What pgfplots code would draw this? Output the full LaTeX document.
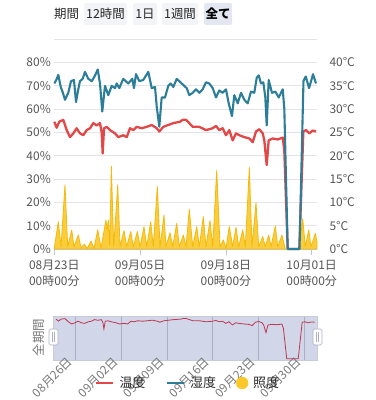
\documentclass[border=0pt]{standalone}
\usepackage{fontspec}
\setmainfont{Noto Sans CJK JP}
\usepackage{pgfplots}
\usepackage{pgfplotstable}
\pgfplotsset{compat=1.18}
\definecolor{tred}{RGB}{226,72,72}
\definecolor{hteal}{RGB}{44,126,152}
\definecolor{lyel}{RGB}{250,200,40}
\definecolor{lyeld}{RGB}{245,185,10}
\definecolor{gridc}{RGB}{228,228,232}
\definecolor{axc}{RGB}{190,200,218}
\definecolor{txtg}{RGB}{85,85,85}
\definecolor{txtd}{RGB}{40,40,40}
\definecolor{txtl}{RGB}{120,120,120}
\definecolor{zoombg}{RGB}{210,214,233}
\definecolor{zoomborder}{RGB}{200,204,215}
\definecolor{zgrid}{RGB}{170,175,195}
\definecolor{mred}{RGB}{190,55,80}
\definecolor{btnbg}{RGB}{243,244,247}
\definecolor{btnsel}{RGB}{226,231,242}
\newcommand\fs[1]{\fontsize{#1}{#1}\selectfont}

\pgfplotstableread{
d h
0 71
0.3 72.5
0.61 74.7
0.97 69.6
1.3 67
1.62 64
2.12 67
2.53 72
2.98 72.5
3.29 63
3.6 68
3.89 72
4.3 73
4.65 76
5.15 73
5.67 72
6.1 74
6.58 77
6.92 71
7.27 59
7.68 70
8.18 66
8.70 70
9.20 69
9.45 71
9.85 69
10.45 73
11.21 71
11.82 73
12.07 69
12.38 75
12.88 72
13.48 72.5
14.24 76
14.76 69
15.26 69.5
15.52 61
15.91 52.5
16.27 65
16.77 65
17.27 70
17.64 71
18.03 69.5
18.55 73
19.30 71
20.06 69
20.45 66
20.97 67
21.47 68.5
21.97 67
22.48 68.5
22.98 71.5
23.48 71
24.00 69
24.50 65
25.00 68
25.51 67
26.01 68.5
26.42 62.5
26.92 57
27.27 66
27.79 62.5
28.29 67
28.79 64
29.30 62.5
29.80 67.5
30.30 67
30.67 73.5
30.97 74.5
31.32 71
31.67 71.5
31.97 65
32.18 53
32.48 72.5
32.98 67
33.49 67.5
34.00 65
34.61 68.5
34.85 60
35.36 0
37.15 0
37.75 72
38.10 74
38.60 69
39.20 75
39.65 71
}\humid

\pgfplotstableread{
d t
0 27.3
0.36 26
0.76 27.3
1.36 27.7
1.88 25.5
2.38 24
2.88 24.8
3.39 25.9
3.89 24.8
4.39 24.4
4.91 25.5
5.41 25.9
5.91 27
6.42 26.5
6.92 27
7.18 25
7.33 20.5
7.53 25.9
7.94 26.2
8.44 25.5
9.20 24.8
9.70 24
10.45 24.4
10.97 24
11.47 25.9
11.97 25.5
12.48 26.2
13.24 25.9
14.00 26.2
14.76 26.6
15.52 25.9
15.91 25.2
16.51 26.2
17.27 26.6
18.03 27
19.05 27.3
19.45 27.7
19.96 27.7
20.45 27
20.97 26.2
21.97 26.2
22.98 25.5
24.00 25.9
24.50 26.4
25.00 25.5
25.51 25.9
26.01 24.4
26.51 25.5
27.03 23.3
27.53 24.8
28.03 24.4
28.79 24
29.55 23.7
30.06 22.9
30.56 25.2
31.06 25.7
31.58 24.8
31.82 23.3
32.18 18
32.48 23.3
33.09 23.7
33.85 23.5
34.61 23.9
34.85 21
35.36 0
37.12 0
37.73 25.2
38.14 25.5
38.64 24.8
39.15 25.4
39.65 25.2
}\temp

\pgfplotstableread{
d l
0 0.5
0.61 11.7
1.02 1
1.62 27.5
2.03 1
2.64 8.2
2.98 1
3.64 6
4.05 0.5
4.55 2
5.00 0.3
5.56 3.4
6.02 0.3
6.58 8.2
7.08 0.5
7.83 12.4
8.00 8
8.18 12.5
8.40 1.5
8.64 35.6
9.00 1
9.61 27.5
9.96 1
10.56 7.9
10.97 1
11.58 7.5
11.97 1
12.58 7.5
12.99 1
13.59 9.6
14.00 1
14.61 11.7
15.00 1
15.61 26.8
16.02 1
16.62 14.6
16.92 1
17.53 7
17.94 1
18.55 11
18.94 1
19.55 6
19.96 1
20.45 17
20.97 1
21.58 9.6
21.97 1
22.58 13.9
22.98 1
23.59 12.2
24.00 1
24.61 33.8
25.11 1
25.61 3.9
26.01 0.3
26.51 9.6
27.03 1
27.53 9.3
27.94 1
28.55 8.2
28.94 1
29.55 35
29.95 1
30.56 19.9
30.97 1
31.58 5.3
31.97 1
32.48 6
32.83 1
33.49 9.9
33.85 1
34.49 6
34.99 0
37.12 0
37.64 13
38.03 1
38.55 8.2
38.89 1
39.55 6.7
39.80 3
}\lux

\begin{document}
\begin{tikzpicture}
% top buttons
\fill[btnbg, rounded corners=2bp] (84bp,375bp) rectangle (127bp,397bp);
\fill[btnbg, rounded corners=2bp] (133bp,375bp) rectangle (157bp,397bp);
\fill[btnbg, rounded corners=2bp] (162bp,375bp) rectangle (198bp,397bp);
\fill[btnsel, rounded corners=2bp] (204bp,375bp) rectangle (232bp,397bp);
\node[font=\fs{12.5}, text=txtd] at (66.5bp,386bp) {期間};
\node[font=\fs{12.5}, text=txtd] at (105.5bp,386bp) {12時間};
\node[font=\fs{12.5}, text=txtd] at (145bp,386bp) {1日};
\node[font=\fs{12.5}, text=txtd] at (180bp,386bp) {1週間};
\node[font=\bfseries\fs{12.5}, text=black] at (218bp,386bp) {全て};
\draw[gridc, line width=0.8bp] (54bp,361bp) -- (317bp,361bp);

% temperature axis (right)
\begin{axis}[
  at={(54.3bp,151bp)}, anchor=south west, scale only axis,
  width=262.7bp, height=186.5bp,
  xmin=0, xmax=39.8, ymin=0, ymax=40, clip=false,
  axis x line*=bottom, axis y line*=right,
  x axis line style={draw=axc, line width=0.8bp},
  y axis line style={draw=none},
  xtick={0,13,26,39},
  xticklabels={{08月23日\\00時00分},{09月05日\\00時00分},{09月18日\\00時00分},{10月01日\\00時00分}},
  xticklabel style={align=center, font=\fontsize{12}{16}\selectfont, text=txtg, yshift=-1.5bp},
  x tick style={draw=axc, line width=0.8bp},
  tick align=outside, major tick length=6bp,
  ytick={0,5,...,40},
  yticklabel={\pgfmathprintnumber{\tick}°C},
  y tick style={draw=none},
  yticklabel style={font=\fs{12}, text=txtg, xshift=3bp},
  ymajorgrids, grid style={gridc, line width=0.8bp},
  /pgf/number format/assume math mode=true,
]
\addplot[tred, line width=2.3bp, line join=round] table[x=d,y=t] {\temp};
\end{axis}

% humidity / illuminance axis (left)
\begin{axis}[
  at={(54.3bp,151bp)}, anchor=south west, scale only axis,
  width=262.7bp, height=186.5bp,
  xmin=0, xmax=39.8, ymin=0, ymax=80, clip=false,
  axis x line=none, axis y line*=left,
  y axis line style={draw=none},
  ytick={0,10,...,80},
  yticklabel={\pgfmathprintnumber{\tick}\%},
  y tick style={draw=none},
  yticklabel style={font=\fs{12}, text=txtg},
  /pgf/number format/assume math mode=true,
]
\addplot[fill=lyel, fill opacity=0.9, draw=lyeld, line width=0.8bp, line join=round] table[x=d,y=l] {\lux} \closedcycle;
\addplot[hteal, line width=2.1bp, line join=round] table[x=d,y=h] {\humid};
\end{axis}

% data zoom minimap
\begin{axis}[
  at={(53.5bp,40bp)}, anchor=south west, scale only axis,
  width=263.5bp, height=43.3bp,
  xmin=-0.4, xmax=40, ymin=-0.8, ymax=29,
  axis background/.style={fill=zoombg},
  axis line style={draw=zoomborder, line width=0.6bp},
  xtick={3,10,17,24,31,38},
  xticklabels={08月26日,09月02日,09月09日,09月16日,09月23日,09月30日},
  xmajorgrids, grid style={zgrid, line width=0.5bp},
  ytick=\empty, major tick length=0,
  xticklabel style={rotate=45, anchor=east, font=\fs{12}, text=txtl, yshift=4bp},
  legend style={at={(0.51,-0.53)}, anchor=center, draw=none, fill=none,
    font=\fs{13}, text=txtd, legend columns=3,
    /tikz/every odd column/.append style={column sep=3bp},
    /tikz/every even column/.append style={column sep=18bp}},
]
\addplot[mred, line width=0.8bp, forget plot] table[x=d,y=t] {\temp};
\addlegendimage{tred, line width=2.8bp}
\addlegendentry{温度}
\addlegendimage{hteal, line width=2.8bp}
\addlegendentry{湿度}
\addlegendimage{only marks, mark=*, mark size=6bp, mark options={fill=lyel, draw=lyel}}
\addlegendentry{照度}
\end{axis}

% handles
\foreach \xx in {53.5,317.5} {
  \draw[zgrid, fill=white, rounded corners=1.5bp, line width=0.6bp] (\xx bp-4.5bp,55bp) rectangle (\xx bp+4.5bp,71bp);
  \draw[zgrid, line width=0.6bp] (\xx bp-1bp,58bp) -- (\xx bp-1bp,68bp);
  \draw[zgrid, line width=0.6bp] (\xx bp+1bp,58bp) -- (\xx bp+1bp,68bp);
}
\node[rotate=90, font=\fs{12.5}, text=txtl] at (39bp,62.5bp) {全期間};
\pgfresetboundingbox
\path[use as bounding box] (0,0) rectangle (376bp,400bp);
\end{tikzpicture}
\end{document}
